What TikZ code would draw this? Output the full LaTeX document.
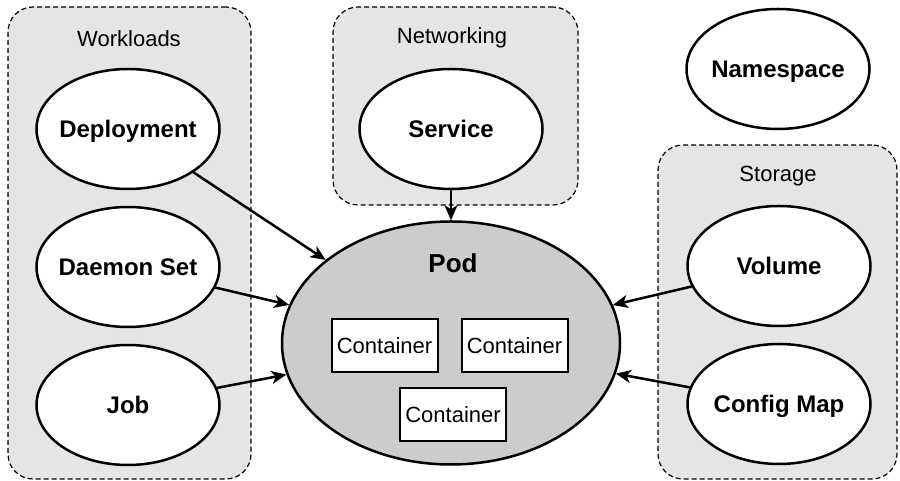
\documentclass[tikz,border=0pt]{standalone}
\usepackage{fontspec}
\setmainfont{Liberation Sans}
\usetikzlibrary{shapes.geometric, positioning, arrows.meta}
\tikzset{
    x=1pt, y=1pt,
    node distance=138pt,
    kobj/.style={ellipse, draw, line width=2.5pt, fill=white, inner xsep=-15pt, inner ysep=0pt, text depth=0pt, minimum width=183pt, minimum height=120pt, font=\bfseries\fontsize{24}{28}\selectfont},
    grp/.style={draw, line width=1.2pt, dash pattern=on 5pt off 3pt, rounded corners=25pt, fill=black!10},
    grplabel/.style={font=\fontsize{22}{26}\selectfont},
    ctr/.style={draw, line width=2pt, fill=white, minimum width=106pt, minimum height=53pt, inner sep=1pt, font=\fontsize{22}{26}\selectfont},
    uses/.style={line width=2.5pt, -{Stealth[length=15pt, width=13pt, inset=4pt]}},
}
\begin{document}
\begin{tikzpicture}
    \useasboundingbox (0,0) rectangle (900,481);

    \node[grp, minimum width=243pt, minimum height=472pt] (wl) at (129.5,238) {};
    \node[grp, minimum width=245pt, minimum height=198pt] (net) at (455.5,375) {};
    \node[grp, minimum width=239pt, minimum height=334pt] (sto) at (777.5,169) {};
    \node[grplabel] (wlt) at (129,442) {Workloads};
    \node[grplabel] (nett) at (452,443) {Networking};
    \node[grplabel] (stot) at (778,305) {Storage};

    \node[kobj] (dep) at (128,352) {Deployment};
    \node[kobj, below of=dep] (ds) {Daemon Set};
    \node[kobj, below of=ds] (job) {Job};
    \node[kobj] (svc) at (451,352) {Service};
    \node[kobj] (ns) at (778,412) {Namespace};
    \node[kobj] (vol) at (779,215) {Volume};
    \node[kobj, below of=vol] (cm) {Config Map};

    \node[ellipse, draw, line width=2.5pt, fill=black!20, minimum width=338pt, minimum height=243pt] (pod) at (451,138) {};
    \node[font=\bfseries\fontsize{26}{30}\selectfont] (podt) at (453,218) {Pod};
    \node[ctr] (c1) at (384.5,135) {Container};
    \node[ctr, right=22pt of c1] (c2) {Container};
    \node[ctr] (c3) at (453,66) {Container};

    \draw[uses] (dep) -- (pod);
    \draw[uses] (ds) -- (pod);
    \draw[uses] (job) -- (pod);
    \draw[uses] (svc) -- (pod);
    \draw[uses] (vol) -- (pod);
    \draw[uses] (cm) -- (pod);
\end{tikzpicture}
\end{document}
